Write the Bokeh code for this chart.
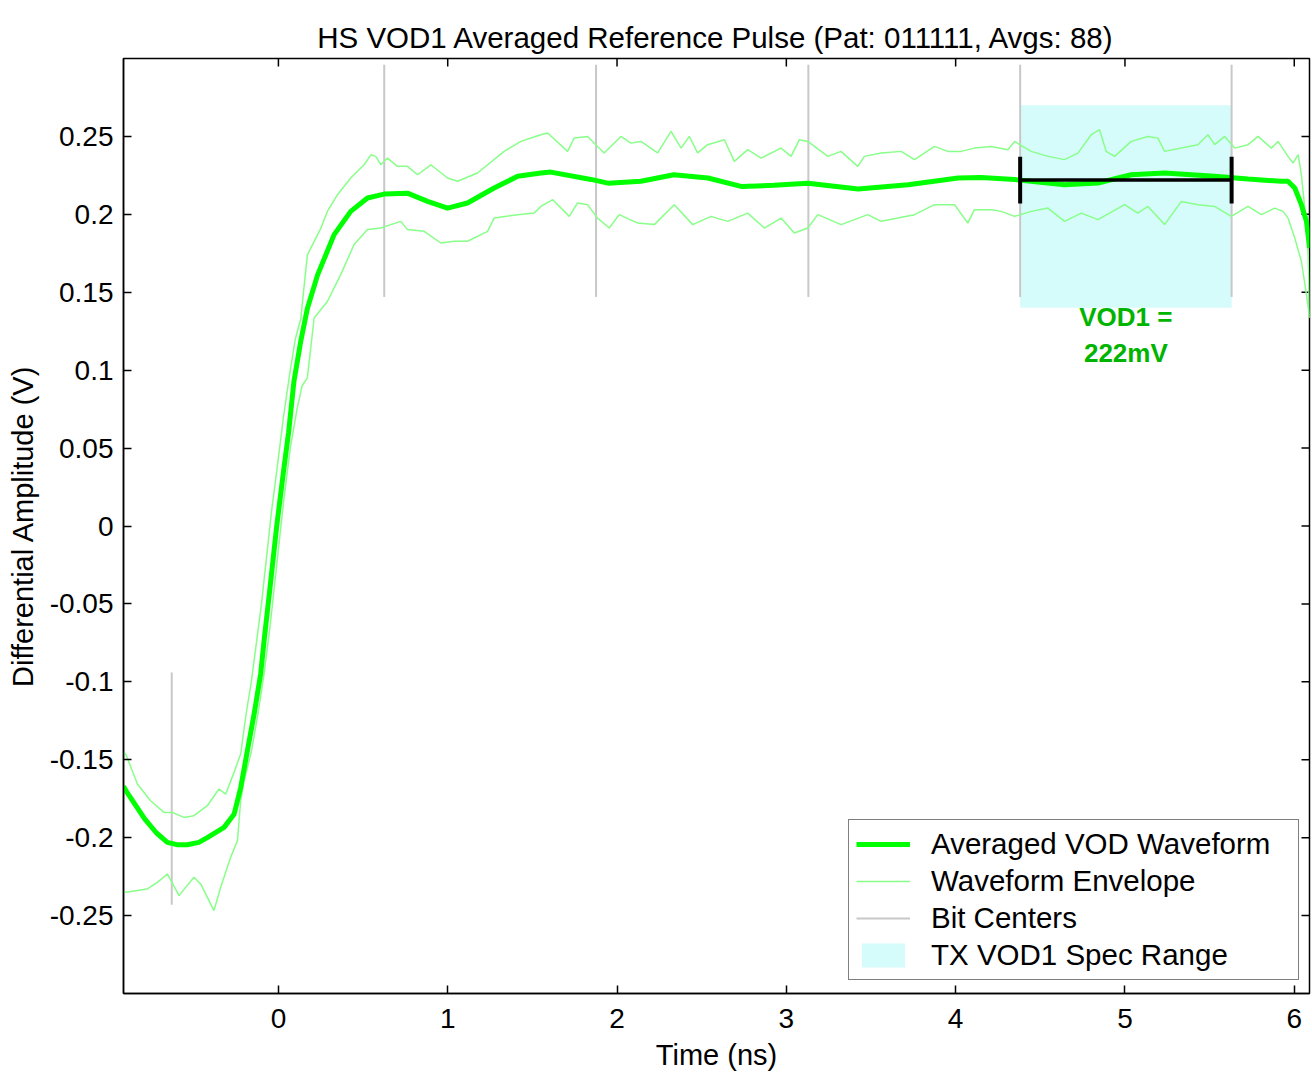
import math
from bokeh.plotting import figure
from bokeh.models import Range1d, FixedTicker, Legend, LegendItem
from bokeh.core.properties import value
from bokeh.embed import file_html
from bokeh.resources import INLINE

FONT = "Liberation Sans"

# Averaged differential waveform (time in ns, amplitude in V)
avg_t = [-0.915, -0.90, -0.79, -0.72, -0.656, -0.60, -0.538, -0.47, -0.42, -0.321,
         -0.262, -0.223, -0.183, -0.144, -0.105, -0.085, -0.05, -0.01, 0.03, 0.06,
         0.092, 0.132, 0.171, 0.231, 0.329, 0.427, 0.526, 0.624, 0.762, 0.881,
         0.999, 1.117, 1.274, 1.413, 1.55, 1.609, 1.846, 1.946, 2.141, 2.336,
         2.537, 2.732, 2.927, 3.128, 3.424, 3.719, 4.015, 4.151, 4.348, 4.643,
         4.840, 5.037, 5.234, 5.530, 5.727, 5.924, 5.963, 6.003, 6.042, 6.072, 6.091]
avg_v = [-0.167, -0.170, -0.188, -0.197, -0.203, -0.2045, -0.2045, -0.203, -0.200, -0.1934,
         -0.185, -0.168, -0.144, -0.121, -0.095, -0.074, -0.040, 0.0, 0.035, 0.060,
         0.093, 0.1186, 0.1396, 0.161, 0.187, 0.2019, 0.2105, 0.2130, 0.2136, 0.2083,
         0.2040, 0.2073, 0.2169, 0.2244, 0.2265, 0.2271, 0.2224, 0.2200, 0.2212, 0.2254,
         0.2233, 0.2179, 0.2186, 0.2200, 0.2162, 0.2190, 0.2233, 0.2237, 0.2223, 0.2190,
         0.2201, 0.2254, 0.2265, 0.2244, 0.2226, 0.2212, 0.2212, 0.2169, 0.2062, 0.1955, 0.1784]

# Upper edge of the waveform envelope
env_hi_t = [-0.915, -0.902, -0.833, -0.755, -0.676, -0.626, -0.558, -0.499, -0.42, -0.351,
            -0.311, -0.262, -0.223, -0.19, -0.16, -0.13, -0.10, -0.07, -0.04, -0.01,
            0.03, 0.07, 0.10, 0.132, 0.171, 0.25, 0.29, 0.349, 0.427, 0.506,
            0.546, 0.575, 0.605, 0.644, 0.703, 0.762, 0.822, 0.900, 0.999, 1.058,
            1.176, 1.333, 1.432, 1.550, 1.590, 1.708, 1.747, 1.826, 1.924, 2.023,
            2.082, 2.141, 2.240, 2.319, 2.378, 2.427, 2.476, 2.535, 2.634, 2.693,
            2.772, 2.851, 2.969, 3.028, 3.077, 3.127, 3.245, 3.323, 3.422, 3.461,
            3.560, 3.678, 3.757, 3.875, 3.954, 4.033, 4.111, 4.210, 4.308, 4.348,
            4.446, 4.545, 4.643, 4.722, 4.801, 4.850, 4.889, 4.939, 5.037, 5.136,
            5.195, 5.234, 5.333, 5.431, 5.490, 5.530, 5.589, 5.648, 5.727, 5.786,
            5.865, 5.904, 5.963, 5.993, 6.023, 6.042, 6.062, 6.082, 6.091]
env_hi_v = [-0.145, -0.1463, -0.1656, -0.1763, -0.1838, -0.1838, -0.1870, -0.1859, -0.1795, -0.1688,
            -0.1720, -0.1581, -0.1463, -0.120, -0.100, -0.075, -0.050, -0.020, 0.010, 0.035,
            0.070, 0.100, 0.120, 0.133, 0.174, 0.191, 0.202, 0.2126, 0.2233, 0.2318,
            0.2382, 0.2372, 0.2318, 0.2361, 0.2308, 0.2308, 0.2254, 0.2318, 0.2233, 0.2212,
            0.2265, 0.2404, 0.2468, 0.2511, 0.2522, 0.2404, 0.2490, 0.2500, 0.2394, 0.2500,
            0.2457, 0.2468, 0.2394, 0.2532, 0.2425, 0.2500, 0.2394, 0.2447, 0.2479, 0.2340,
            0.2415, 0.2361, 0.2425, 0.2372, 0.2479, 0.2468, 0.2372, 0.2404, 0.2308, 0.2372,
            0.2393, 0.2404, 0.2351, 0.2436, 0.2404, 0.2404, 0.2425, 0.2436, 0.2415, 0.2468,
            0.2404, 0.2372, 0.2351, 0.2393, 0.2511, 0.2543, 0.2404, 0.2372, 0.2468, 0.2500,
            0.2489, 0.2404, 0.2425, 0.2447, 0.2511, 0.2447, 0.2500, 0.2425, 0.2447, 0.2500,
            0.2425, 0.2468, 0.2372, 0.2329, 0.2383, 0.2254, 0.2040, 0.1741, 0.1335]

# Lower edge of the waveform envelope
env_lo_t = [-0.915, -0.902, -0.774, -0.715, -0.656, -0.587, -0.499, -0.459, -0.381, -0.341,
            -0.282, -0.242, -0.223, -0.203, -0.16, -0.12, -0.085, -0.05, -0.01, 0.03,
            0.07, 0.11, 0.14, 0.171, 0.211, 0.290, 0.368, 0.447, 0.526, 0.605,
            0.664, 0.723, 0.762, 0.861, 0.959, 1.038, 1.117, 1.235, 1.274, 1.413,
            1.511, 1.550, 1.62, 1.718, 1.767, 1.826, 1.885, 1.954, 2.013, 2.122,
            2.220, 2.338, 2.447, 2.555, 2.654, 2.772, 2.870, 2.969, 3.047, 3.127,
            3.186, 3.323, 3.481, 3.560, 3.757, 3.875, 3.993, 4.072, 4.111, 4.210,
            4.269, 4.348, 4.446, 4.545, 4.643, 4.742, 4.840, 4.998, 5.076, 5.136,
            5.234, 5.333, 5.431, 5.530, 5.628, 5.727, 5.806, 5.885, 5.934, 5.963,
            6.003, 6.042, 6.072, 6.091]
env_lo_v = [-0.235, -0.2351, -0.2329, -0.2287, -0.2233, -0.2372, -0.2254, -0.2297, -0.2468, -0.2318,
            -0.2126, -0.2019, -0.1763, -0.1635, -0.145, -0.120, -0.095, -0.065, -0.025, 0.015,
            0.050, 0.075, 0.090, 0.0951, 0.1335, 0.1442, 0.1613, 0.1806, 0.1902, 0.1912,
            0.1934, 0.1955, 0.1902, 0.1891, 0.1816, 0.1827, 0.1827, 0.1891, 0.1976, 0.1998,
            0.2008, 0.2051, 0.2094, 0.1987, 0.2073, 0.2062, 0.1976, 0.1912, 0.1998, 0.1944,
            0.1934, 0.2062, 0.1934, 0.1987, 0.1955, 0.2008, 0.1912, 0.1976, 0.1880, 0.1912,
            0.1998, 0.1934, 0.1998, 0.1955, 0.1998, 0.2062, 0.2062, 0.1944, 0.2030, 0.2030,
            0.2019, 0.1987, 0.2019, 0.2040, 0.1955, 0.2008, 0.1966, 0.2062, 0.2008, 0.2051,
            0.1934, 0.2083, 0.2062, 0.2051, 0.1987, 0.2051, 0.1998, 0.2040, 0.2019, 0.1976,
            0.1848, 0.1699, 0.1485, 0.1335]

# Bit-centre markers and the span each marker covers
bit_centers = [-0.63, 0.625, 1.876, 3.130, 4.381, 5.630]
bit_lo = [-0.243, 0.147, 0.147, 0.147, 0.147, 0.147]
bit_hi = [-0.094, 0.296, 0.296, 0.296, 0.296, 0.296]

# TX VOD1 spec window (V) and the measured VOD1 level (V)
spec_min, spec_max = 0.14, 0.27
vod1 = 0.222
cap_half = 0.015

# Axis limits and ticks
x_lo, x_hi = -0.915, 6.09
y_lo, y_hi = -0.3, 0.3
x_ticks = [0, 1, 2, 3, 4, 5, 6]
y_ticks = [-0.25, -0.2, -0.15, -0.1, -0.05, 0, 0.05, 0.1, 0.15, 0.2, 0.25]
y_tick_labels = ["-0.25", "-0.2", "-0.15", "-0.1", "-0.05", "0", "0.05", "0.1", "0.15", "0.2", "0.25"]

p = figure(width=1312, height=1074,
           x_range=Range1d(x_lo, x_hi), y_range=Range1d(y_lo, y_hi),
           output_backend="svg", toolbar_location=None,
           min_border_left=123, min_border_right=3,
           min_border_top=57, min_border_bottom=81,
           title="HS VOD1 Averaged Reference Pulse (Pat: 011111, Avgs: 88)")

x_axis = p.below[0]
y_axis = p.left[0]

p.title.text_font = FONT
p.title.text_font_size = "29.5px"
p.title.text_font_style = "normal"
p.title.align = "center"
p.title.vertical_align = "top"
p.title.text_color = "black"
p.title.standoff = 6
# Extra room under the title text, above the frame
p.title.padding = (0, 0, 17, 0)

p.xgrid.visible = False
p.ygrid.visible = False
p.outline_line_color = "black"
p.outline_line_width = 1.5
p.background_fill_color = "white"
p.border_fill_color = "white"

for ax in (x_axis, y_axis):
    ax.major_tick_in = 8
    ax.major_tick_out = 0
    ax.minor_tick_line_color = None
    ax.axis_line_color = "black"
    ax.axis_line_width = 1.5
    ax.major_tick_line_width = 1.5
    ax.major_label_text_font = FONT
    ax.major_label_text_font_size = "28px"
    ax.major_label_text_color = "black"
    ax.axis_label_text_font = FONT
    ax.axis_label_text_font_size = "29px"
    ax.axis_label_text_font_style = "normal"
    ax.axis_label_text_color = "black"

x_axis.ticker = FixedTicker(ticks=x_ticks)
x_axis.axis_label = "Time (ns)"
x_axis.major_label_standoff = 15
x_axis.axis_label_standoff = 8

y_axis.ticker = FixedTicker(ticks=y_ticks)
y_axis.major_label_overrides = {t: s for t, s in zip(y_ticks, y_tick_labels)}
y_axis.axis_label = "Differential Amplitude (V)"
y_axis.major_label_standoff = 10
y_axis.axis_label_standoff = 8

# Box ticks along the top and right edges, pointing inward
p.ray(x=x_ticks, y=[y_hi] * len(x_ticks), length=8, length_units="screen",
      angle=-math.pi / 2, line_color="black", line_width=1.5)
p.ray(x=[x_hi] * len(y_ticks), y=y_ticks, length=8, length_units="screen",
      angle=math.pi, line_color="black", line_width=1.5)

# Spec window
spec = p.quad(left=[bit_centers[4]], right=[bit_centers[5]],
              bottom=[spec_min], top=[spec_max],
              fill_color="#d6fbfb", line_color=None)

# Bit centres
bits = p.segment(x0=bit_centers, y0=bit_lo, x1=bit_centers, y1=bit_hi,
                 line_color="#c8c8c8", line_width=2)

# Envelope and averaged waveform
env_hi = p.line(env_hi_t, env_hi_v, line_color="#88ff88", line_width=1.5)
env_lo = p.line(env_lo_t, env_lo_v, line_color="#88ff88", line_width=1.5)
avg = p.line(avg_t, avg_v, line_color="#00ff00", line_width=5)

# VOD1 measurement bar with end caps
p.segment(x0=[bit_centers[4]], y0=[vod1], x1=[bit_centers[5]], y1=[vod1],
          line_color="black", line_width=3.5)
p.segment(x0=[bit_centers[4], bit_centers[5]], y0=[vod1 - cap_half, vod1 - cap_half],
          x1=[bit_centers[4], bit_centers[5]], y1=[vod1 + cap_half, vod1 + cap_half],
          line_color="black", line_width=4)

p.text(x=[(bit_centers[4] + bit_centers[5]) / 2], y=[spec_min],
       text=[f"VOD1 =\n{round(vod1 * 1000)}mV"],
       text_font=value(FONT), text_font_size="26px", text_font_style="bold",
       text_color="#00b400", text_align="center", text_baseline="top",
       text_line_height=1.2, y_offset=-6)

legend = Legend(items=[
    LegendItem(label="Averaged VOD Waveform", renderers=[avg]),
    LegendItem(label="Waveform Envelope", renderers=[env_hi]),
    LegendItem(label="Bit Centers", renderers=[bits]),
    LegendItem(label="TX VOD1 Spec Range", renderers=[spec]),
], location=(725, 13))
legend.label_text_font = FONT
legend.label_text_font_size = "29.5px"
legend.label_text_color = "black"
legend.glyph_width = 54
legend.glyph_height = 30
legend.label_height = 30
legend.label_width = 360
legend.label_standoff = 21
legend.spacing = 3
legend.padding = 7
legend.margin = 0
legend.border_line_color = "black"
legend.border_line_width = 1.5
legend.background_fill_color = "white"
legend.background_fill_alpha = 1.0
p.add_layout(legend, "center")

open("out.html", "w").write(file_html(p, INLINE))
